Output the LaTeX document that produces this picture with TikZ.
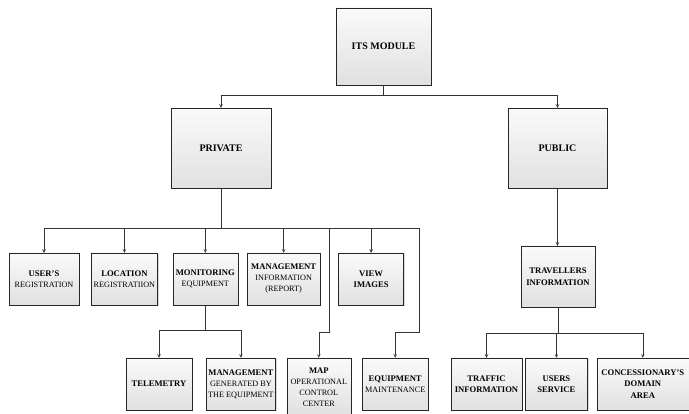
\documentclass[tikz,border=0pt]{standalone}
\usepackage{fontspec}
\setmainfont{Liberation Serif}
\usetikzlibrary{arrows, positioning, shadows}
\tikzstyle{box} = [rectangle, draw=black!85, inner sep=1pt, text centered, align=center, top color=gray!4, bottom color=gray!24, drop shadow={opacity=0.3, shadow xshift=1.2pt, shadow yshift=-1.2pt}]
\tikzstyle{module} = [box, font=\fontsize{10}{12}\selectfont\bfseries]
\tikzstyle{item} = [box, minimum height=52pt, font=\fontsize{8.2}{11}\selectfont]
\tikzstyle{itembold} = [item, font=\fontsize{8.6}{11.5}\selectfont\bfseries]
\tikzstyle{arrow} = [line width=0.6pt, draw=black!80, ->, >=stealth]
\newcommand{\boxhead}[1]{{\fontsize{8.6}{11}\selectfont\bfseries #1}}

\begin{document}
\begin{tikzpicture}[x=1pt, y=-1pt]
\useasboundingbox (0,0) rectangle (689,414);

\node (its) [module, minimum width=95pt, minimum height=77pt] at (383.5,46.5) {ITS MODULE};

\node (private) [module, minimum width=100pt, minimum height=80pt] at (221,148) {PRIVATE};
\node (public) [module, minimum width=99pt, minimum height=80pt] at (557.5,148) {PUBLIC};

% private side
\node (users) [item, minimum width=70pt] at (44,279) {\boxhead{USER'S}\\REGISTRATION};
\node (location) [item, minimum width=66pt, right=12pt of users] {\boxhead{LOCATION}\\REGISTRATIION};
\node (monitoring) [item, minimum width=65pt, right=15pt of location] {\boxhead{MONITORING}\\EQUIPMENT};
\node (mgmtinfo) [item, minimum width=73pt, right=9pt of monitoring] {\boxhead{MANAGEMENT}\\INFORMATION\\(REPORT)};
\node (view) [itembold, minimum width=65pt, right=18pt of mgmtinfo] {VIEW\\IMAGES};

\node (telemetry) [itembold, minimum width=66pt] at (159,384) {TELEMETRY};
\node (mgmtgen) [item, minimum width=69pt, right=14pt of telemetry] {\boxhead{MANAGEMENT}\\GENERATED BY\\THE EQUIPMENT};
\node (map) [item, minimum width=64pt, minimum height=58pt, right=11pt of mgmtgen.north east, anchor=north west] {\boxhead{MAP}\\OPERATIONAL\\CONTROL\\CENTER};
\node (eqmaint) [item, minimum width=66pt, right=11pt of map.north east, anchor=north west] {\boxhead{EQUIPMENT}\\MAINTENANCE};

% public side
\node (travellers) [itembold, minimum width=74pt, minimum height=61pt] at (558,276.5) {TRAVELLERS\\INFORMATION};
\node (traffic) [itembold, minimum width=71pt] at (486.5,384) {TRAFFIC\\INFORMATION};
\node (usersserv) [itembold, minimum width=62pt, right=3pt of traffic] {USERS\\SERVICE};
\node (concess) [itembold, minimum width=92pt, right=9pt of usersserv] {CONCESSIONARY'S\\DOMAIN\\AREA};

% Arrows
\draw [arrow] (its.south) -- ++(0,10) -| (private.north);
\draw [arrow] (its.south) -- ++(0,10) -| (public.north);
\draw [arrow] (private.south) -- ++(0,40) -| (users.north);
\draw [arrow] (private.south) -- ++(0,40) -| (location.north);
\draw [arrow] (private.south) -- ++(0,40) -| (monitoring.north);
\draw [arrow] (private.south) -- ++(0,40) -| (mgmtinfo.north);
\draw [arrow] (private.south) -- ++(0,40) -| (view.north);
\draw [arrow] (private.south) -- ++(0,40) -| ([xshift=10pt, yshift=25pt]map.north) -| (map.north);
\draw [arrow] (private.south) -- ++(0,40) -| ([xshift=24pt, yshift=25pt]eqmaint.north) -| (eqmaint.north);
\draw [arrow] (monitoring.south) -- ++(0,25) -| (telemetry.north);
\draw [arrow] (monitoring.south) -- ++(0,25) -| (mgmtgen.north);
\draw [arrow] (public.south) -- (public.south |- travellers.north);
\draw [arrow] (travellers.south) -- ++(0,26) -| (traffic.north);
\draw [arrow] (travellers.south) -- ++(0,26) -| (usersserv.north);
\draw [arrow] (travellers.south) -- ++(0,26) -| (concess.north);

\end{tikzpicture}
\end{document}
